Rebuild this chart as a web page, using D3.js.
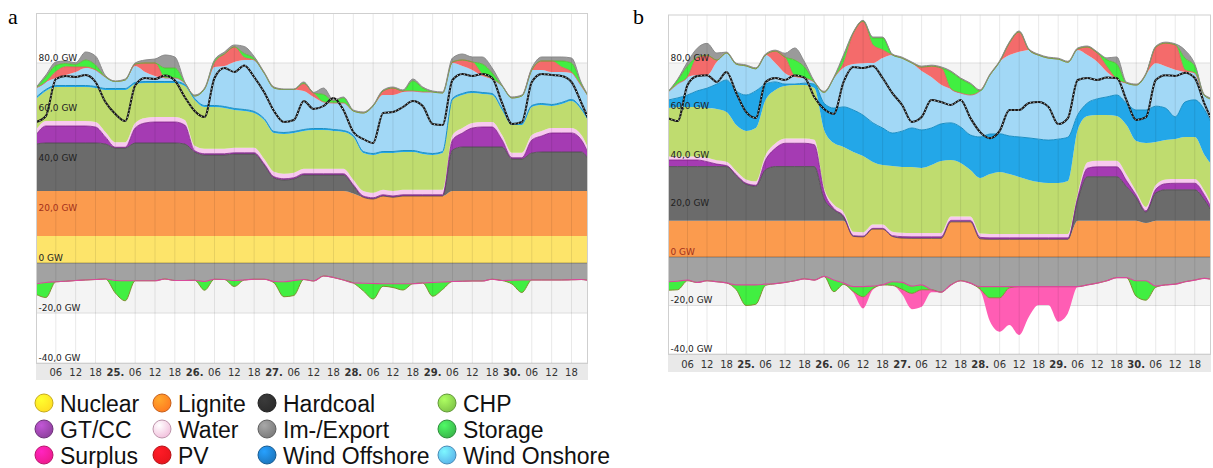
<!DOCTYPE html>
<html lang="en">
<head>
  <meta charset="UTF-8">
  <title>Generation stack a / b</title>
  <style>
    body { margin: 0; background: #fff; }
    svg { display: block; }
  </style>
</head>
<body>
<svg id="svg" width="1213" height="468"></svg>
<script src="https://d3js.org/d3.v7.min.js"></script>
<script>
// hours since 24. 00:00, 3h steps
const hours = [0,3,6,9,12,15,18,21,24,27,30,33,36,39,42,45,48,51,54,57,60,63,66,69,72,75,78,81,84,87,90,93,96,99,102,105,108,111,114,117,120,123,126,129,132,135,138,141,144,147,150,153,156,159,162,165,168]
const tickLabels = ['06','12','18','25.','06','12','18','26.','06','12','18','27.','06','12','18','28.','06','12','18','29.','06','12','18','30.','06','12','18']
const yTicks = [80, 60, 40, 20, 0, -20, -40]

// ---- chart a (GW) ----
const nuclearA = [10.8,10.8,10.8,10.8,10.8,10.8,10.8,10.8,10.8,10.8,10.8,10.8,10.8,10.8,10.8,10.8,10.8,10.8,10.8,10.8,10.8,10.8,10.8,10.8,10.8,10.8,10.8,10.8,10.8,10.8,10.8,10.8,10.8,10.8,10.8,10.8,10.8,10.8,10.8,10.8,10.8,10.8,10.8,10.8,10.8,10.8,10.8,10.8,10.8,10.8,10.8,10.8,10.8,10.8,10.8,10.8,10.8]
const ligniteA = [18,18,18,18,18,18,18,18,18,18,18,18,18,18,18,18,18,18,18,18,18,18,18,18,18,18,18,18,18,18,18,18,17,15.5,14.8,16,15.5,16,16,16,16,16,18,18,18,18,18,18,18,18,18,18,18,18,18,18,18]
const hardcoalA = [18.8,19.2,19.2,19.2,19.2,19.2,19.2,18.8,17.2,17.2,19.2,19.2,19.2,19.2,19.2,18.8,15.6,14.4,14.4,14.4,14.8,14.8,14.8,10.4,5.2,4.4,4.8,6.4,6.4,6.4,6.4,6.4,3,0,0,0,0,0,0,0,0,0,16.4,17.6,17.6,17.6,17.6,17.6,12.8,12.8,15.2,15.6,15.6,15.6,15.6,15.6,10]
const gtccA = [3.6,6.8,6.8,6.8,6.8,6.8,6.4,2.8,0.3,0.3,6,8,8.4,8.4,8.4,7.6,0.5,0.5,0.5,0.5,0.5,0.5,0.5,0.5,0.5,0.5,0.5,0.5,0.5,0.5,0.5,0.5,0.5,0.5,0.5,0.5,0.5,0.5,0.5,0.5,0.5,0.5,4,5.6,7.6,8,8,2.8,0.5,0.5,5.2,6.4,7.6,7.6,7.6,4.8,2]
const waterA = [2,2,2,2,2,2,2,2,2,2,2,2,2,2,2,2,2,2,2,2,2,2,2,2,2,2,2,2,2,2,2,2,2,2,2,2,2,2,2,2,2,2,2,2,2,2,2,2,2,2,2,2,2,2,2,2,2]
const chpA = [12.4,12,13.6,13.6,13.6,13.6,13.6,16.8,20.9,20.9,15.6,14,13.6,13.6,13.6,13.6,18.3,16.7,16.7,16.3,15.1,14.7,13.9,15.5,15.5,15.9,15.9,15.1,15.5,15.5,15.1,14.7,17.1,15.2,15.1,14.7,15.2,15.1,15.1,14.3,13.9,14.7,14,13.2,12,11.2,10.8,10,11.1,11.1,11.2,10.4,8.8,9.6,10.8,10,11.6]
const offshoreA = [0.6,0.6,0.6,0.6,0.6,0.6,0.6,0.6,0.6,0.6,0.6,0.6,0.6,0.6,0.6,0.6,0.6,0.6,0.6,0.6,0.6,0.6,0.6,0.6,0.6,0.6,0.6,0.6,0.6,0.6,0.6,0.6,0.6,0.6,0.6,0.6,0.6,0.6,0.6,0.6,0.6,0.6,0.6,0.6,0.6,0.6,0.6,0.6,0.6,0.6,0.6,0.6,0.6,0.6,0.6,0.6,0.6]
const onshoreA = [3.8,3,3,4.2,5.4,7,6.6,4.6,2.8,3.4,6.6,3.8,2.2,1.4,1.4,0.6,1,6.6,15.4,16.2,18.6,19.8,20.6,18.2,17.4,17.2,16.8,15.4,12.6,10.6,10.6,11,9.8,15.4,19,22.6,22.6,23.4,23.8,24.2,24.6,23.4,14.2,11,8.6,6.6,5.8,9,10.2,11,14.2,13.4,13,12.2,10.6,9,9.8]
const pvA = [0,0,2.5,3.3,2,0.4,0,0,0,0,0.8,3.6,5.2,0,0,0,0,0,1.6,4.8,6,1,0,0,0,0,0,2.8,1.6,0,0,0,0,0,0,1.6,2.8,0.4,0,0,0,0,0.4,2.4,3.2,0.8,0,0,0,0,0,3.6,4.4,2,0.4,0,0]
const storageA = [0,2,2.5,1.3,1,2.8,2,0,0,0,0,0,0,4,4,0.2,0,0,0.8,0,0,1.6,0.6,0,0,0,0,0.4,0,3,0.8,2,0,0,0,0,0,0,4,1.6,0,0,0,0,0,4,2.4,0,0,0,0,0,0,2.4,3.6,0.8,0]
const importA = [0.2,0.8,1.4,1,0.7,3.2,3.6,0.6,0.2,0.4,0.4,1.2,1.6,5.2,4.4,0.2,0.4,0.4,0.4,0.8,0.8,2.8,0.8,0.4,0.4,0.2,0.2,0.4,0.2,2.6,0.4,0.4,0.4,0.4,0.4,0.4,0.4,0.4,0.8,0.4,0.4,0.4,1.6,2.4,2,2.8,2,0.4,0.4,0.4,0.8,1.6,1.6,1.6,2,0.4,0.4]
const exportA = [-8.4,-7.8,-7.5,-7.3,-7,-6.8,-6.6,-6.4,-7,-7.1,-7.1,-7.1,-7.1,-6.4,-7,-7,-6.9,-7.4,-6.5,-6.6,-7,-6.8,-6.5,-6.5,-7.4,-7.5,-7,-6.6,-7.2,-5.2,-5.8,-6.8,-8,-8.1,-8.2,-8.3,-8.3,-8.3,-8.3,-8,-7.8,-7.6,-7.4,-7.3,-7.2,-7.2,-6.5,-7,-6.9,-6.8,-6.8,-6.8,-6.8,-6.8,-6.7,-6.6,-7.2]
const pumpA = [-4.1,-6,0,0,0,0,0,0,-5,-8,0,0,0,0,0,0,0,-3.5,0,0,-2.4,0,0,0,-0.5,-6,-6,0,0,0,0,0,0,-3,-6.2,-1,-1.5,-2.5,0,0,-5.5,-3,0,0,0,0,0,0,-1.5,-5,0,0,0,0,0,0,0]
const surplusA = [0,0,0,0,0,0,0,0,0,0,0,0,0,0,0,0,0,0,0,0,0,0,0,0,0,0,0,0,0,0,0,0,0,0,0,0,0,0,0,0,0,0,0,0,0,0,0,0,0,0,0,0,0,0,0,0,0]
const loadA = [56.4,58.8,73.6,74.8,74.4,75.2,72.4,64.4,59.6,56.8,71,74,73.6,75,73,66.4,60.8,58.4,74,78,76.4,79,74.4,68.4,60.8,56.4,57.2,64.8,61.6,62.8,66,61.2,52.4,49.6,48,60,60.4,62.4,64.8,62.8,55.6,55.2,73.2,75.6,74.8,75.6,74,64,55.6,56.4,72.4,75.6,75.2,74.8,72.4,64,55]

// ---- chart b (GW) ----
const nuclearB = [0,0,0,0,0,0,0,0,0,0,0,0,0,0,0,0,0,0,0,0,0,0,0,0,0,0,0,0,0,0,0,0,0,0,0,0,0,0,0,0,0,0,0,0,0,0,0,0,0,0,0,0,0,0,0,0,0]
const ligniteB = [15,15,15,15,15,15,15,15,15,15,15,15,15,15,15,15,15,15,15,8.5,8.3,11.5,11.5,8.5,7.8,7.7,7.7,7.7,7.7,14.5,14.5,14.5,7.5,7.3,7.3,7.3,7.3,7.3,7.3,7.3,7.3,7.3,15,15,15,15,15,15,15,14,15,15,15,15,15,15,15]
const hardcoalB = [22.3,22.3,22.3,22.3,22.3,22.3,22.3,18.5,15,14.2,21,22.3,22.3,22.3,22.3,22.3,9,4.5,1.5,0,0,0,0,0,0,0,0,0,0,0,0,0,0,0,0,0,0,0,0,0,0,0,8.5,18.1,18.1,18.1,18.1,14,9.4,4.5,11.4,12.7,12.7,12.7,12.7,8.5,2]
const gtccB = [2.7,2.7,2.7,2.7,2,1,0.4,0.4,0.4,0.4,4,7.5,9.6,9.6,9.6,9,3,0.5,0.4,0.3,0.3,0.3,0.3,0.3,0.6,0.6,0.6,0.6,0.6,0.6,0.6,0.6,0.6,0.6,0.6,0.6,0.6,0.6,0.6,0.6,0.6,0.6,1,3.5,4.1,4.1,4.1,2.5,1,0.5,1.5,2.5,2.7,2.7,2.7,2,0.8]
const waterB = [1.4,1.4,1.4,1.4,1.6,1.6,1.6,1.6,1.6,1.6,2,2,2,2,2,2,1.6,1.6,1.6,1.6,1.6,1.6,1.6,1.6,1.6,1.6,1.6,1.6,1.6,1.6,1.6,1.6,1.6,1.6,1.6,1.6,1.6,1.6,1.6,1.6,1.6,1.6,1.6,2.5,2.5,2.5,2.5,2.5,1.6,1.6,1.8,1.8,1.8,1.8,1.8,1.8,1.6]
const chpB = [20,20.5,20.5,20.5,20.5,21.1,20.5,18.9,20,22,22.7,22.1,21.6,22,22,21.4,23.8,25.4,26.9,32.9,31.4,25.8,24.5,27.1,27.1,27.2,26.8,28,29.7,23.3,22.1,19.2,22.9,24.7,25.6,24.7,23.5,22.3,21.4,21,21,21.8,26.3,19,18.9,18.9,18.4,20.4,20.8,26.4,17.7,16.2,16.5,17.3,17.3,14.8,17.3]
const offshoreB = [3.3,3.7,4.9,6.6,8.2,10.3,13.2,14,14.8,15.3,6.6,3.3,0.8,0.4,0.8,1.6,11,14.4,16.5,17.3,16.9,16.1,15.3,13.6,14.8,16.1,15.7,15.3,15.3,15.3,14.8,14.4,16.9,16.5,15.7,15.7,16.5,17.3,17.7,17.7,18.1,18.1,6.2,5.4,6.6,7.4,8.7,9.1,12.8,13.6,14.8,13.2,9.1,14.4,15.3,18.6,15.7]
const onshoreB = [3.3,5.8,7.4,6.6,5.4,9.1,11.1,11.1,12,9.1,12,7.8,4.5,2.9,2.1,0.8,4.5,12.4,16.1,19,21.4,24.7,28.9,32.2,30.1,26.8,24.3,21,16.1,14,14,16.5,19,24.3,29.7,33.4,35.1,36.3,34.6,33.8,33,30.9,26.8,19.8,15.3,10.3,6.6,8.2,10.3,14.8,17.7,17.3,19.4,12.4,11.1,5.8,12.4]
const pvB = [0,0,0,7.3,8.2,0.8,0,0,0,0,0,4.9,6.6,0.4,0,0,0,0,2,12.8,17.3,7.4,3.3,0,0,0,1.6,4.5,7,0,0,0,0,0,0,5,8.2,0,0,0,0,0,0.4,3.3,3.7,2.1,0,0,0,0,6.6,9.5,10.3,0.8,0,0,0]
const storageB = [0,1.6,4.5,0,0,0,0,0,0,0,0,0,0,6.6,4.5,0,0,0,2.5,0,0,2.9,4.9,0,0,0,0,0,0,7,5.8,4.5,0,0,0,0,0,0,0,0,0,0,0,0,0,2.9,6.2,0,0,0,0,0,0,4.9,2.9,0,0]
const importB = [0.2,0.4,1.7,3.7,4.9,2.9,0.4,0.4,0.4,0.4,0.4,0.4,1.6,5,2.1,0.4,0.4,0.4,0.9,0.4,0.4,0.4,0.4,0.4,0.4,0.4,0.4,0.4,0.4,0.4,0.4,0.4,0.4,0.4,0.4,0.4,0.4,0.4,0.4,0.4,0.4,0.4,0.4,0.4,0.4,0.8,2.9,0.4,0.4,0.4,0.4,0.4,0.4,3.3,0.8,0.4,0.4]
const exportB = [-10.2,-10,-9.5,-10.5,-9.8,-10.2,-10.7,-11.5,-11.5,-11.5,-11.2,-11,-10.5,-9.8,-9,-9.5,-8,-9.5,-10.8,-12.2,-12.2,-12,-11.5,-10.2,-10.5,-12,-11.5,-13.5,-14.5,-11.5,-9.8,-10.8,-12.2,-12.2,-12.2,-12.2,-12.2,-12.2,-12.2,-12.2,-12.2,-12.2,-12.2,-11.5,-10.8,-9.8,-8.5,-8.5,-9.8,-9.8,-12,-11.5,-11.2,-10.2,-9.5,-8.8,-9.5]
const pumpB = [-3.5,-3.5,-0.3,0,0,0,0,-2,-8.5,-8,-0.5,0,0,0,0,0,0,-4.8,-0.5,-2,-4.2,-1,0,-1.5,-2.8,-3,-2,0,0,0,0,0,-1,-4.6,-4.6,-0.5,0,0,0,0,0,0,0,0,0,0,0,0,-6.4,-8,-0.5,0,0,0,0,0,0]
const surplusB = [0,0,0,0,0,0,0,0,0,0,0,0,0,0,0,0,0,0,0,-0.5,-4.8,-0.5,0,0,-2.1,-6.5,-7,-1,0,0,0,0,-0.5,-9.7,-14,-15.3,-20,-12.4,-7.6,-7.6,-14.5,-11,0,0,0,0,0,0,0,0,0,0,0,0,0,0,0]
const loadB = [57.3,56.1,70.9,74.6,75,72.2,76.3,67.6,59.8,57.3,72.2,73.8,73,75,74,66,61,59,72.2,78.4,77.9,78.8,73.8,67.6,62.7,55.7,57.7,64.7,63.9,62.7,64.7,57.3,51.5,49,52,60.6,60.6,63.5,63.9,61.9,54.8,57.3,73,73.8,73,74,73.8,64.7,56.5,57.7,73,75,74.6,76,73.8,63.1,54.4]

// legend
const legendNames = ['Nuclear', 'Lignite', 'Hardcoal', 'CHP', 'GT/CC', 'Water', 'Im-/Export', 'Storage', 'Surplus', 'PV', 'Wind Offshore', 'Wind Onshore']
const legendColors = ['#ffdd22', '#ff7a20', '#2b2b2b', '#7ec447', '#8d3f9c', '#f2bfdc', '#7a7a7a', '#39b54a', '#ee1a8c', '#e8141c', '#1c75bc', '#5bb3ea']

// area styles
const posKeys = ['nuclear', 'lignite', 'hardcoal', 'gtcc', 'water', 'chp', 'offshore', 'onshore', 'pv', 'storage', 'import']
const negKeys = ['export', 'pump', 'surplus']
const fills = {
  nuclear: '#fde46a', lignite: '#fb9b4e', hardcoal: '#6b6b6b', gtcc: '#a53bb3', water: '#f8c9ef',
  chp: '#bfdc6f', offshore: '#23a7e8', onshore: '#a2d8f6', pv: '#f46b6b', storage: '#41ef41',
  import: '#9a9a9a', export: '#a2a2a2', pump: '#41ef41', surplus: '#ff5db4'
}
const edges = {
  hardcoal: ['#4a4a4a', 0.8], gtcc: ['#7d2287', 0.8], offshore: ['#1b8fc4', 1],
  pv: ['#e25a5a', 0.8], storage: ['#57b52e', 0.8], import: ['#8a8a8a', 1],
  pump: ['#7e9130', 1], export: ['#d9499b', 1.2]
}

const svg = d3.select('#svg')

function drawChart(cfg) {
  const x = d3.scaleLinear().domain([0, 167]).range([cfg.left, cfg.right])
  const y = d3.scaleLinear().domain([-40, 100]).range([cfg.bottom, cfg.top])
  const rows = hours.map((h, i) => {
    const r = { h }
    Object.keys(cfg.series).forEach(k => { r[k] = cfg.series[k][i] })
    return r
  })
  const pos = d3.stack().keys(posKeys)(rows)
  const neg = d3.stack().keys(negKeys)(rows)

  const g = svg.append('g')
  const clipId = 'clip-' + cfg.name
  svg.append('clipPath').attr('id', clipId)
    .append('rect')
    .attr('x', cfg.left).attr('y', cfg.top)
    .attr('width', cfg.right - cfg.left).attr('height', cfg.bottom - cfg.top)

  // alternate bands
  const bands = d3.range(-40, 100, 20)
  g.selectAll('.band').data(bands).enter().append('rect')
    .attr('x', cfg.left).attr('width', cfg.right - cfg.left)
    .attr('y', d => y(d + 20)).attr('height', d => y(d) - y(d + 20))
    .attr('fill', d => Math.abs(d / 20) % 2 === 1 ? '#f4f4f4' : '#fff')
  g.selectAll('.hgrid').data(bands).enter().append('line')
    .attr('x1', cfg.left).attr('x2', cfg.right)
    .attr('y1', d => y(d)).attr('y2', d => y(d))
    .attr('stroke', '#dedede')

  const plot = g.append('g').attr('clip-path', `url(#${clipId})`)
  const area = d3.area()
    .x(d => x(d.data.h)).y0(d => y(d[0])).y1(d => y(d[1]))
    .curve(d3.curveMonotoneX)
  const edge = d3.line()
    .x(d => x(d.data.h)).y(d => y(d[1]))
    .curve(d3.curveMonotoneX)

  const layers = pos.concat(neg)
  plot.selectAll('.layer').data(layers).enter().append('path')
    .attr('d', area)
    .attr('fill', d => fills[d.key])

  // vertical grid over the areas
  const tickHours = tickLabels.map((t, i) => (i + 1) * 6)
  plot.selectAll('.vgrid').data(tickHours).enter().append('line')
    .attr('x1', d => x(d)).attr('x2', d => x(d))
    .attr('y1', cfg.top).attr('y2', cfg.bottom)
    .attr('stroke', 'rgba(0,0,0,0.09)')

  // edges: pump before export so the pink export edge stays on top
  const edgeOrder = ['hardcoal', 'gtcc', 'offshore', 'pv', 'storage', 'import', 'pump', 'export']
  edgeOrder.forEach(k => {
    const s = layers.find(l => l.key === k)
    plot.append('path')
      .attr('d', edge(s))
      .attr('fill', 'none')
      .attr('stroke', edges[k][0])
      .attr('stroke-width', edges[k][1])
  })
  plot.append('line')
    .attr('x1', cfg.left).attr('x2', cfg.right)
    .attr('y1', y(0)).attr('y2', y(0))
    .attr('stroke', 'rgba(0,0,0,0.28)')

  // load
  const loadLine = d3.line()
    .x((d, i) => x(hours[i])).y(d => y(d))
    .curve(d3.curveMonotoneX)
  plot.append('path').attr('d', loadLine(cfg.load))
    .attr('fill', 'none').attr('stroke', '#151515').attr('stroke-width', 2)
  plot.append('path').attr('d', loadLine(cfg.load))
    .attr('fill', 'none').attr('stroke', '#fff').attr('stroke-width', 0.8)
    .attr('stroke-dasharray', '1.2,2.4')

  // y labels
  g.selectAll('.ylab').data(yTicks).enter().append('text')
    .attr('x', cfg.left + 2.5)
    .attr('y', d => y(d) - 2.5)
    .text(d => d === 0 ? '0 GW' : d.toFixed(1).replace('.', ',') + ' GW')
    .style('font-family', 'DejaVu Sans')
    .style('font-size', '9px')
    .attr('fill', d => {
      const s = pos.find(l => l[0][0] <= d + 2 && l[0][1] > d + 2)
      return s && s.key === 'lignite' ? '#a3301a' : '#222'
    })

  // x axis strip
  g.append('rect')
    .attr('x', cfg.left).attr('width', cfg.right - cfg.left)
    .attr('y', cfg.bottom).attr('height', cfg.axisH)
    .attr('fill', '#e9e9e9')
  g.selectAll('.xlab').data(tickLabels).enter().append('text')
    .attr('x', (d, i) => x(tickHours[i]))
    .attr('y', cfg.bottom + cfg.axisH - 4)
    .attr('text-anchor', 'middle')
    .text(d => d)
    .style('font-family', 'DejaVu Sans')
    .style('font-size', '10px')
    .style('font-weight', d => d.endsWith('.') ? 'bold' : 'normal')
    .attr('fill', '#333')

  g.append('rect')
    .attr('x', cfg.left + 0.5).attr('y', cfg.top + 0.5)
    .attr('width', cfg.right - cfg.left - 1).attr('height', cfg.bottom - cfg.top)
    .attr('fill', 'none').attr('stroke', '#cfcfcf')

  svg.append('text')
    .attr('x', cfg.tagX).attr('y', 24)
    .text(cfg.name)
    .style('font-family', 'Liberation Serif')
    .style('font-size', '22px')
    .attr('fill', '#000')
}

drawChart({
  name: 'a', tagX: 8, left: 36, right: 588, top: 13, bottom: 363, axisH: 17,
  series: { nuclear: nuclearA, lignite: ligniteA, hardcoal: hardcoalA, gtcc: gtccA, water: waterA, chp: chpA,
    offshore: offshoreA, onshore: onshoreA, pv: pvA, storage: storageA, import: importA,
    export: exportA, pump: pumpA, surplus: surplusA },
  load: loadA
})
drawChart({
  name: 'b', tagX: 633, left: 668, right: 1211, top: 14.5, bottom: 354, axisH: 18,
  series: { nuclear: nuclearB, lignite: ligniteB, hardcoal: hardcoalB, gtcc: gtccB, water: waterB, chp: chpB,
    offshore: offshoreB, onshore: onshoreB, pv: pvB, storage: storageB, import: importB,
    export: exportB, pump: pumpB, surplus: surplusB },
  load: loadB
})

// legend, 4 columns x 3 rows
const colX = [44, 162, 267, 447]
const rowY = [403, 429, 455]
const defs = svg.append('defs')
legendColors.forEach((c, i) => {
  const gr = defs.append('radialGradient').attr('id', 'lg' + i)
    .attr('cx', '35%').attr('cy', '30%').attr('r', '75%')
  gr.append('stop').attr('offset', '0%').attr('stop-color', d3.color(c).brighter(0.9))
  gr.append('stop').attr('offset', '100%').attr('stop-color', c)
})
const items = svg.selectAll('.leg').data(legendNames).enter().append('g')
  .attr('transform', (d, i) => `translate(${colX[i % 4]},${rowY[Math.floor(i / 4)]})`)
items.append('circle')
  .attr('r', 9)
  .attr('fill', (d, i) => `url(#lg${i})`)
  .attr('stroke', (d, i) => d3.color(legendColors[i]).darker(0.7))
  .attr('stroke-width', 1)
items.append('text')
  .attr('x', 16).attr('y', 8.5)
  .text(d => d)
  .style('font-family', 'Liberation Sans')
  .style('font-size', '23px')
  .attr('fill', '#111')
</script>
</body>
</html>
